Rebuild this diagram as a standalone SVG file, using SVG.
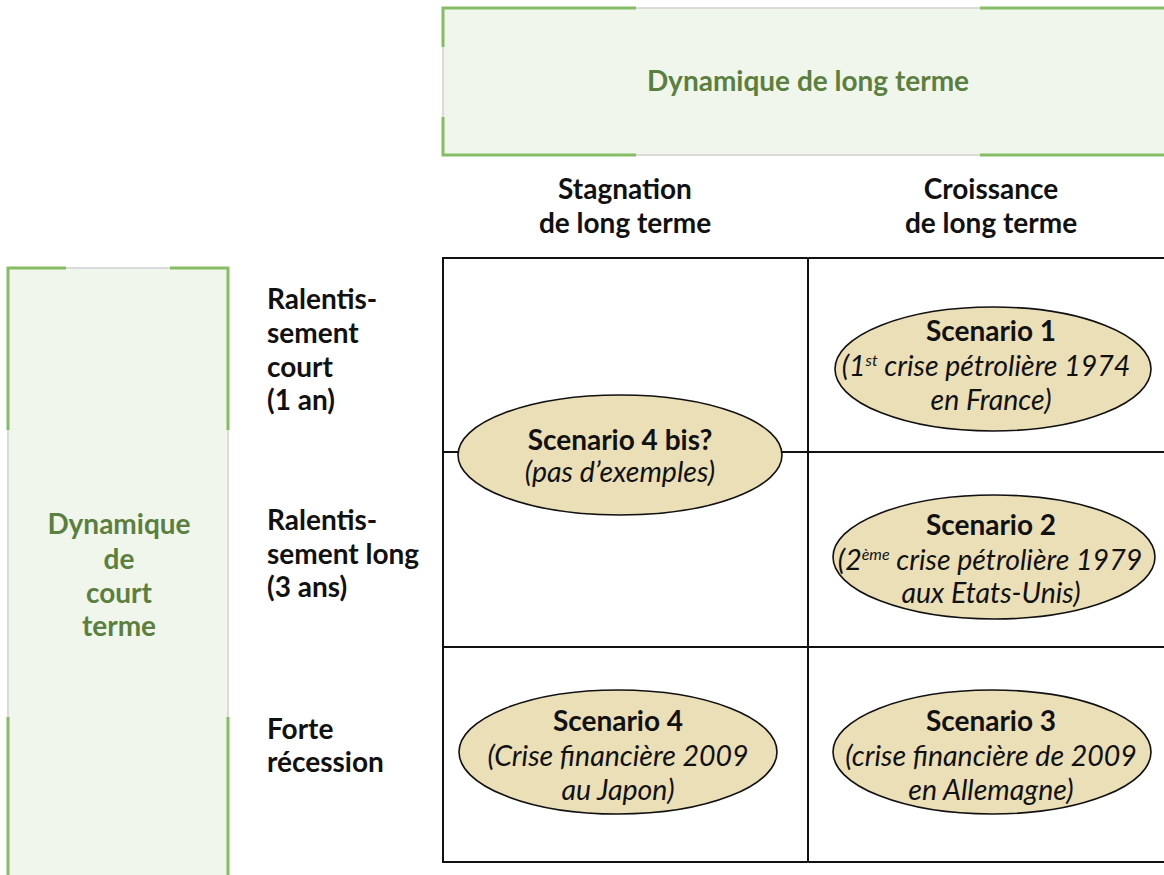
<svg xmlns="http://www.w3.org/2000/svg" width="1164" height="875" viewBox="0 0 1164 875">
<style>
.bx{fill:#f1f6ec;stroke:#dadada;stroke-width:2}
.gr{stroke:#86bc64;stroke-width:3;fill:none}
.ttl{font-family:Lato,"Liberation Sans",sans-serif;font-weight:bold;font-size:28px;fill:#5b7f3f;text-anchor:middle}
.hd{font-family:Lato,"Liberation Sans",sans-serif;font-weight:bold;font-size:28px;fill:#111}
.mid{text-anchor:middle}
.el{fill:#ebdfb8;stroke:#111;stroke-width:1.6}
.it{font-family:Lato,"Liberation Sans",sans-serif;font-style:italic;font-size:28.5px;fill:#111;text-anchor:middle}
.sup{font-size:16px}
.ln{stroke:#111;stroke-width:2;fill:none}
</style>
<g id="top-box">
<rect class="bx" x="443" y="8" width="730" height="147"/>
<path class="gr" d="M636,8 H443 V47 M443,117 V155 H636 M980,8 H1170 M980,155 H1170"/>
<text class="ttl" x="808" y="91">Dynamique de long terme</text>
</g>
<g id="left-box">
<rect class="bx" x="8" y="268" width="220" height="620"/>
<path class="gr" d="M66,268 H8 V430 M170,268 H228 V430 M8,717 V880 M228,717 V880"/>
<text class="ttl" x="119" y="534">Dynamique</text>
<text class="ttl" x="119" y="569">de</text>
<text class="ttl" x="119" y="603">court</text>
<text class="ttl" x="119" y="636">terme</text>
</g>
<g id="col-headers">
<text class="hd mid" x="625" y="199">Stagnation</text>
<text class="hd mid" x="625" y="233">de long terme</text>
<text class="hd mid" x="991" y="199">Croissance</text>
<text class="hd mid" x="991" y="233">de long terme</text>
</g>
<g id="row-headers">
<text class="hd" x="267" y="309">Ralentis-</text>
<text class="hd" x="267" y="343">sement</text>
<text class="hd" x="267" y="377">court</text>
<text class="hd" x="267" y="410">(1 an)</text>
<text class="hd" x="267" y="530">Ralentis-</text>
<text class="hd" x="267" y="564">sement long</text>
<text class="hd" x="267" y="597">(3 ans)</text>
<text class="hd" x="267" y="739">Forte</text>
<text class="hd" x="267" y="772">récession</text>
</g>
<g id="grid">
<rect class="ln" x="443" y="258" width="730" height="604"/>
<line class="ln" x1="808" y1="258" x2="808" y2="862"/>
<line class="ln" x1="443" y1="452" x2="1170" y2="452"/>
<line class="ln" x1="443" y1="647" x2="1170" y2="647"/>
</g>
<g id="scenario-4bis">
<ellipse class="el" cx="620" cy="455" rx="162" ry="60"/>
<text class="hd mid" x="620" y="450">Scenario 4 bis?</text>
<text class="it" x="620" y="482">(pas d’exemples)</text>
</g>
<g id="scenario-1">
<ellipse class="el" cx="993" cy="369" rx="158" ry="62"/>
<text class="hd mid" x="991" y="341">Scenario 1</text>
<text class="it" x="986" y="376">(1<tspan class="sup" dy="-10">st</tspan><tspan dy="10"> crise pétrolière 1974</tspan></text>
<text class="it" x="991" y="410">en France)</text>
</g>
<g id="scenario-2">
<ellipse class="el" cx="994" cy="557" rx="161" ry="62"/>
<text class="hd mid" x="991" y="535">Scenario 2</text>
<text class="it" x="990" y="570">(2<tspan class="sup" dy="-10">ème</tspan><tspan dy="10"> crise pétrolière 1979</tspan></text>
<text class="it" x="991" y="603">aux Etats-Unis)</text>
</g>
<g id="scenario-4">
<ellipse class="el" cx="618" cy="752" rx="159" ry="62"/>
<text class="hd mid" x="618" y="731">Scenario 4</text>
<text class="it" x="618" y="766">(Crise financière 2009</text>
<text class="it" x="618" y="800">au Japon)</text>
</g>
<g id="scenario-3">
<ellipse class="el" cx="992" cy="752" rx="159" ry="62"/>
<text class="hd mid" x="991" y="731">Scenario 3</text>
<text class="it" x="991" y="766">(crise financière de 2009</text>
<text class="it" x="991" y="800">en Allemagne)</text>
</g>
</svg>
